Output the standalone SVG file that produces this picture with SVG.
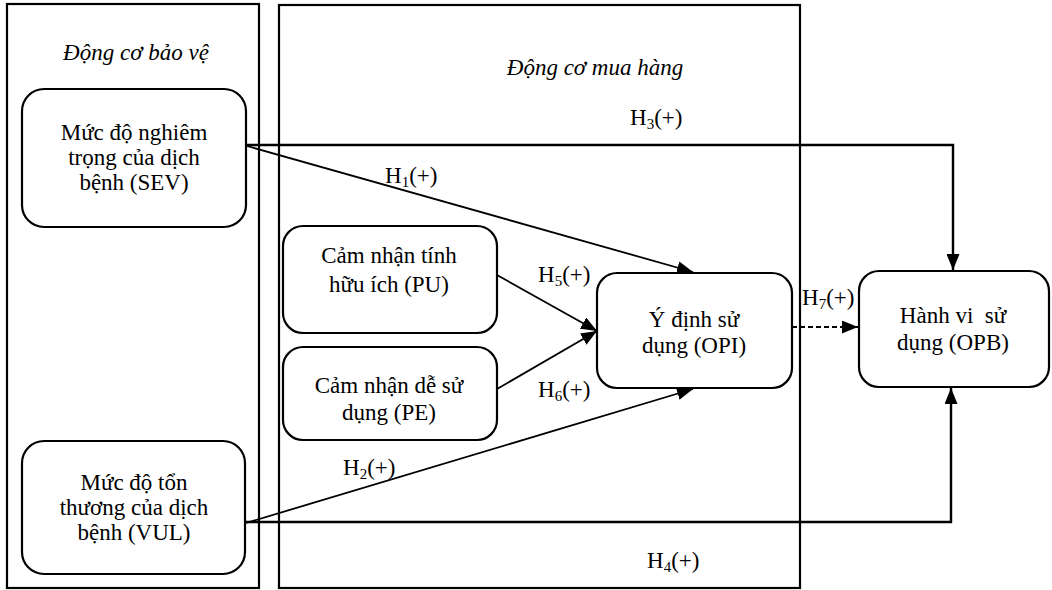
<svg xmlns="http://www.w3.org/2000/svg" width="1052" height="590" viewBox="0 0 1052 590">
  <style>
    text { font-family: "Liberation Serif", "Times New Roman", "DejaVu Serif", serif; font-size: 23px; fill: #000; }
    .c { text-anchor: middle; }
    .it { font-style: italic; }
    .panel { fill: none; stroke: #000; stroke-width: 2.2; }
    .node rect { fill: #fff; stroke: #000; stroke-width: 2.2; }
    .edge { fill: none; stroke: #000; stroke-width: 1.8; }
    .thick { stroke-width: 2.4; }
    .dash { stroke-dasharray: 5 3; }
    .sub { font-size: 15px; }
  </style>
  <defs>
    <marker id="arrow" viewBox="0 0 16 13" refX="16" refY="6.5" markerWidth="16" markerHeight="13" markerUnits="userSpaceOnUse" orient="auto">
      <path d="M0,0 L16,6.5 L0,13 Z" fill="#000"/>
    </marker>
  </defs>

  <rect width="1052" height="590" fill="#fff"/>

  <!-- group frames -->
  <g id="panels">
    <rect class="panel" x="7" y="4" width="252" height="584"/>
    <rect class="panel" x="279" y="5" width="521" height="583"/>
    <text class="c it" x="136" y="60">Động cơ bảo vệ</text>
    <text class="c it" x="595" y="75">Động cơ mua hàng</text>
  </g>

  <!-- connectors -->
  <g id="connectors">
    <path class="edge thick" d="M247,145 H953 V270" marker-end="url(#arrow)"/>
    <line class="edge" x1="247" y1="146" x2="693" y2="272" marker-end="url(#arrow)"/>
    <line class="edge" x1="497" y1="275" x2="597" y2="331" marker-end="url(#arrow)"/>
    <line class="edge" x1="497" y1="389" x2="597" y2="331" marker-end="url(#arrow)"/>
    <line class="edge" x1="246" y1="523" x2="693" y2="389" marker-end="url(#arrow)"/>
    <path class="edge thick" d="M245,522 H951 V388" marker-end="url(#arrow)"/>
    <line class="edge dash" x1="792" y1="327" x2="858" y2="327" marker-end="url(#arrow)"/>

    <text x="630" y="125">H<tspan class="sub" dy="4">3</tspan><tspan dy="-4">(+)</tspan></text>
    <text x="385" y="183">H<tspan class="sub" dy="4">1</tspan><tspan dy="-4">(+)</tspan></text>
    <text x="538" y="282">H<tspan class="sub" dy="4">5</tspan><tspan dy="-4">(+)</tspan></text>
    <text x="538" y="397">H<tspan class="sub" dy="4">6</tspan><tspan dy="-4">(+)</tspan></text>
    <text x="802" y="305">H<tspan class="sub" dy="4">7</tspan><tspan dy="-4">(+)</tspan></text>
    <text x="343" y="475">H<tspan class="sub" dy="4">2</tspan><tspan dy="-4">(+)</tspan></text>
    <text x="647" y="568">H<tspan class="sub" dy="4">4</tspan><tspan dy="-4">(+)</tspan></text>
  </g>

  <g id="SEV" class="node">
    <rect x="22" y="89" width="224" height="138" rx="22"/>
    <text class="c" x="134" y="140">Mức độ nghiêm</text>
    <text class="c" x="134" y="165">trọng của dịch</text>
    <text class="c" x="134" y="190">bệnh (SEV)</text>
  </g>

  <g id="PU" class="node">
    <rect x="283" y="226" width="214" height="107" rx="20"/>
    <text class="c" x="389" y="263">Cảm nhận tính</text>
    <text class="c" x="389" y="292">hữu ích (PU)</text>
  </g>

  <g id="PE" class="node">
    <rect x="283" y="347" width="214" height="93" rx="20"/>
    <text class="c" x="389" y="393">Cảm nhận dễ sử</text>
    <text class="c" x="389" y="420">dụng (PE)</text>
  </g>

  <g id="VUL" class="node">
    <rect x="22" y="441" width="223" height="133" rx="22"/>
    <text class="c" x="134" y="490">Mức độ tổn</text>
    <text class="c" x="134" y="515">thương của dịch</text>
    <text class="c" x="134" y="540">bệnh (VUL)</text>
  </g>

  <g id="OPI" class="node">
    <rect x="597" y="273" width="195" height="115" rx="20"/>
    <text class="c" x="694" y="327">Ý định sử</text>
    <text class="c" x="694" y="353">dụng (OPI)</text>
  </g>

  <g id="OPB" class="node">
    <rect x="859" y="271" width="190" height="116" rx="20"/>
    <text class="c" x="953" y="323" xml:space="preserve">Hành vi  sử</text>
    <text class="c" x="953" y="350">dụng (OPB)</text>
  </g>
</svg>
